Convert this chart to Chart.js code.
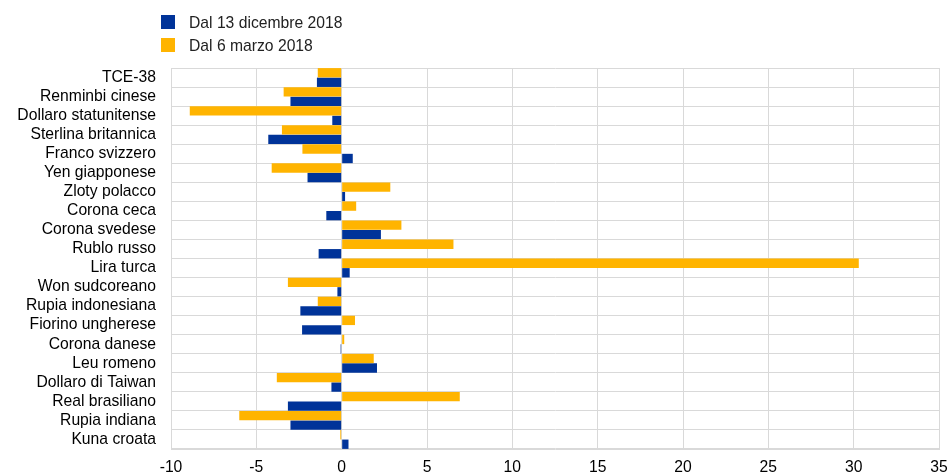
<!DOCTYPE html>
<html>
<head>
<meta charset="utf-8">
<script src="https://cdn.jsdelivr.net/npm/chart.js@4"></script>
<style>
  body{margin:0;background:#fff;}
  #wrap{position:relative;width:949px;height:474px;}
  #legenda{position:absolute;left:161px;top:15px;font:15.7px "Liberation Sans",Arial,sans-serif;color:#222;}
  #legenda div{height:23px;line-height:15px;}
  #legenda span{display:inline-block;width:14px;height:14px;margin-right:14px;vertical-align:top;}
</style>
</head>
<body>
<div id="wrap">
  <canvas id="myCanvas" width="949" height="474"></canvas>
  <div id="legenda">
    <div><span style="background:#003399"></span>Dal 13 dicembre 2018</div>
    <div><span style="background:#ffb400"></span>Dal 6 marzo 2018</div>
  </div>
</div>
<script>
var valute=['TCE-38','Renminbi cinese','Dollaro statunitense','Sterlina britannica','Franco svizzero',
  'Yen giapponese','Zloty polacco','Corona ceca','Corona svedese','Rublo russo','Lira turca',
  'Won sudcoreano','Rupia indonesiana','Fiorino ungherese','Corona danese','Leu romeno',
  'Dollaro di Taiwan','Real brasiliano','Rupia indiana','Kuna croata'];
// variazioni percentuali
var dal6marzo=[-1.4,-3.4,-8.9,-3.5,-2.3,-4.1,2.85,0.85,3.5,6.55,30.3,-3.15,-1.4,0.78,0.15,1.88,-3.8,6.92,-6.0,-0.08];
var dal13dic=[-1.45,-3.0,-0.55,-4.3,0.65,-2.0,0.2,-0.9,2.3,-1.35,0.47,-0.25,-2.42,-2.32,-0.06,2.07,-0.6,-3.15,-3.0,0.4];
var tickX=[-10,-5,0,5,10,15,20,25,30,35];

var griglia='#d9d9d9';
var fontAssi={family:'"Liberation Sans", Arial',size:15.7};
var ctx=document.getElementById('myCanvas');
new Chart(ctx,{
  type:'bar',
  data:{
    labels:valute,
    datasets:[
      {label:'Dal 6 marzo 2018',data:dal6marzo,backgroundColor:'#ffb400',categoryPercentage:1,barPercentage:0.98},
      {label:'Dal 13 dicembre 2018',data:dal13dic,backgroundColor:'#003399',categoryPercentage:1,barPercentage:0.98}
    ]
  },
  options:{
    indexAxis:'y',
    responsive:false,
    animation:false,
    layout:{padding:{top:68,right:0,left:0,bottom:0}},
    plugins:{legend:{display:false},tooltip:{enabled:false}},
    scales:{
      x:{
        min:-10,max:35,
        afterBuildTicks:function(s){s.ticks=tickX.map(function(v){return {value:v};});},
        grid:{color:griglia,lineWidth:1,drawTicks:false},
        border:{color:griglia},
        ticks:{color:'#000',padding:9,font:fontAssi},
        afterFit:function(s){s.height=25;s.paddingRight=10;s.paddingLeft=0;}
      },
      y:{
        grid:{color:griglia,lineWidth:1,drawTicks:false,offset:true},
        border:{color:griglia},
        ticks:{color:'#000',padding:15,autoSkip:false,font:fontAssi},
        afterFit:function(s){s.width=171;}
      }
    }
  }
});
</script>
</body>
</html>
